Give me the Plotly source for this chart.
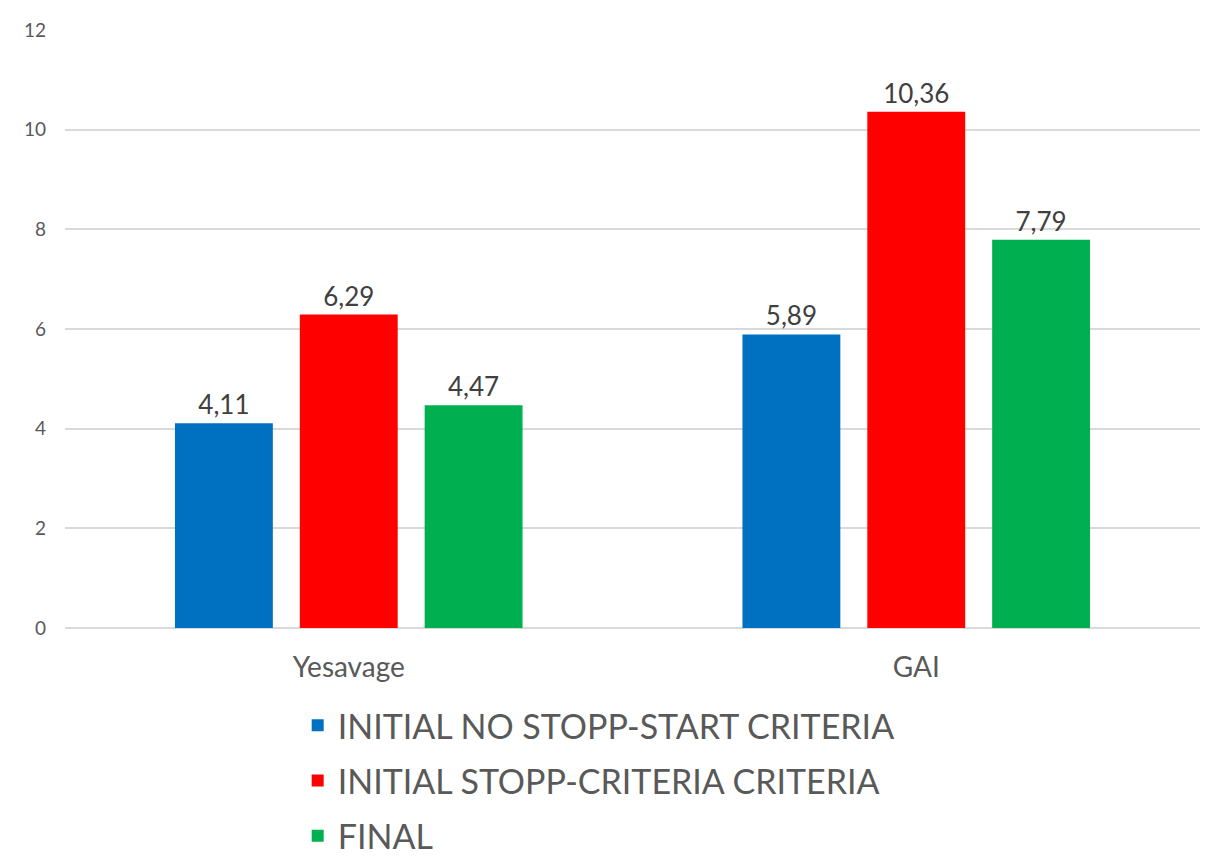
import plotly.graph_objects as go

categories = ["Yesavage", "GAI"]
series_names = ["INITIAL NO STOPP-START CRITERIA", "INITIAL STOPP-CRITERIA CRITERIA", "FINAL"]
initial_no = [4.11, 5.89]
initial_stopp = [6.29, 10.36]
final = [4.47, 7.79]
colors = ["#0070C0", "#FF0000", "#00B050"]
y_ticks = [0, 2, 4, 6, 8, 10, 12]

font_family = "Lato, 'Open Sans', sans-serif"

fig = go.Figure()
for i, (name, vals) in enumerate(zip(series_names, [initial_no, initial_stopp, final])):
    fig.add_trace(go.Bar(
        x=categories, y=vals, name=name,
        marker=dict(color=colors[i], line=dict(width=0)),
        texttemplate="%{y:.2f}", textposition="outside",
        textfont=dict(size=26, color="#404040", family=font_family),
        cliponaxis=False,
        legendgroup=f"g{i}",
    ))

fig.update_layout(
    width=1216, height=860,
    margin=dict(l=65, r=16, t=30, b=232, autoexpand=False),
    paper_bgcolor="white", plot_bgcolor="white",
    separators=",.",
    barmode="group", bargap=0.34, bargroupgap=0.216,
    font=dict(family=font_family, color="#595959"),
    legend=dict(
        orientation="v", x=0.205, xanchor="left", y=-0.115, yanchor="top",
        font=dict(size=34, color="#595959", family=font_family),
        tracegroupgap=8, itemwidth=30, bgcolor="rgba(0,0,0,0)",
    ),
    xaxis=dict(
        showgrid=False, showline=False, ticks="",
        tickfont=dict(size=28, color="#595959"),
        ticklabelstandoff=20,
    ),
    yaxis=dict(
        range=[0, 12], tickvals=y_ticks,
        showgrid=True, gridcolor="#d9d9d9", gridwidth=1.5,
        zeroline=True, zerolinecolor="#d9d9d9", zerolinewidth=1.5,
        showline=False, ticks="",
        tickfont=dict(size=19, color="#595959"),
        ticklabelstandoff=18,
    ),
)

fig.write_html("out.html")
